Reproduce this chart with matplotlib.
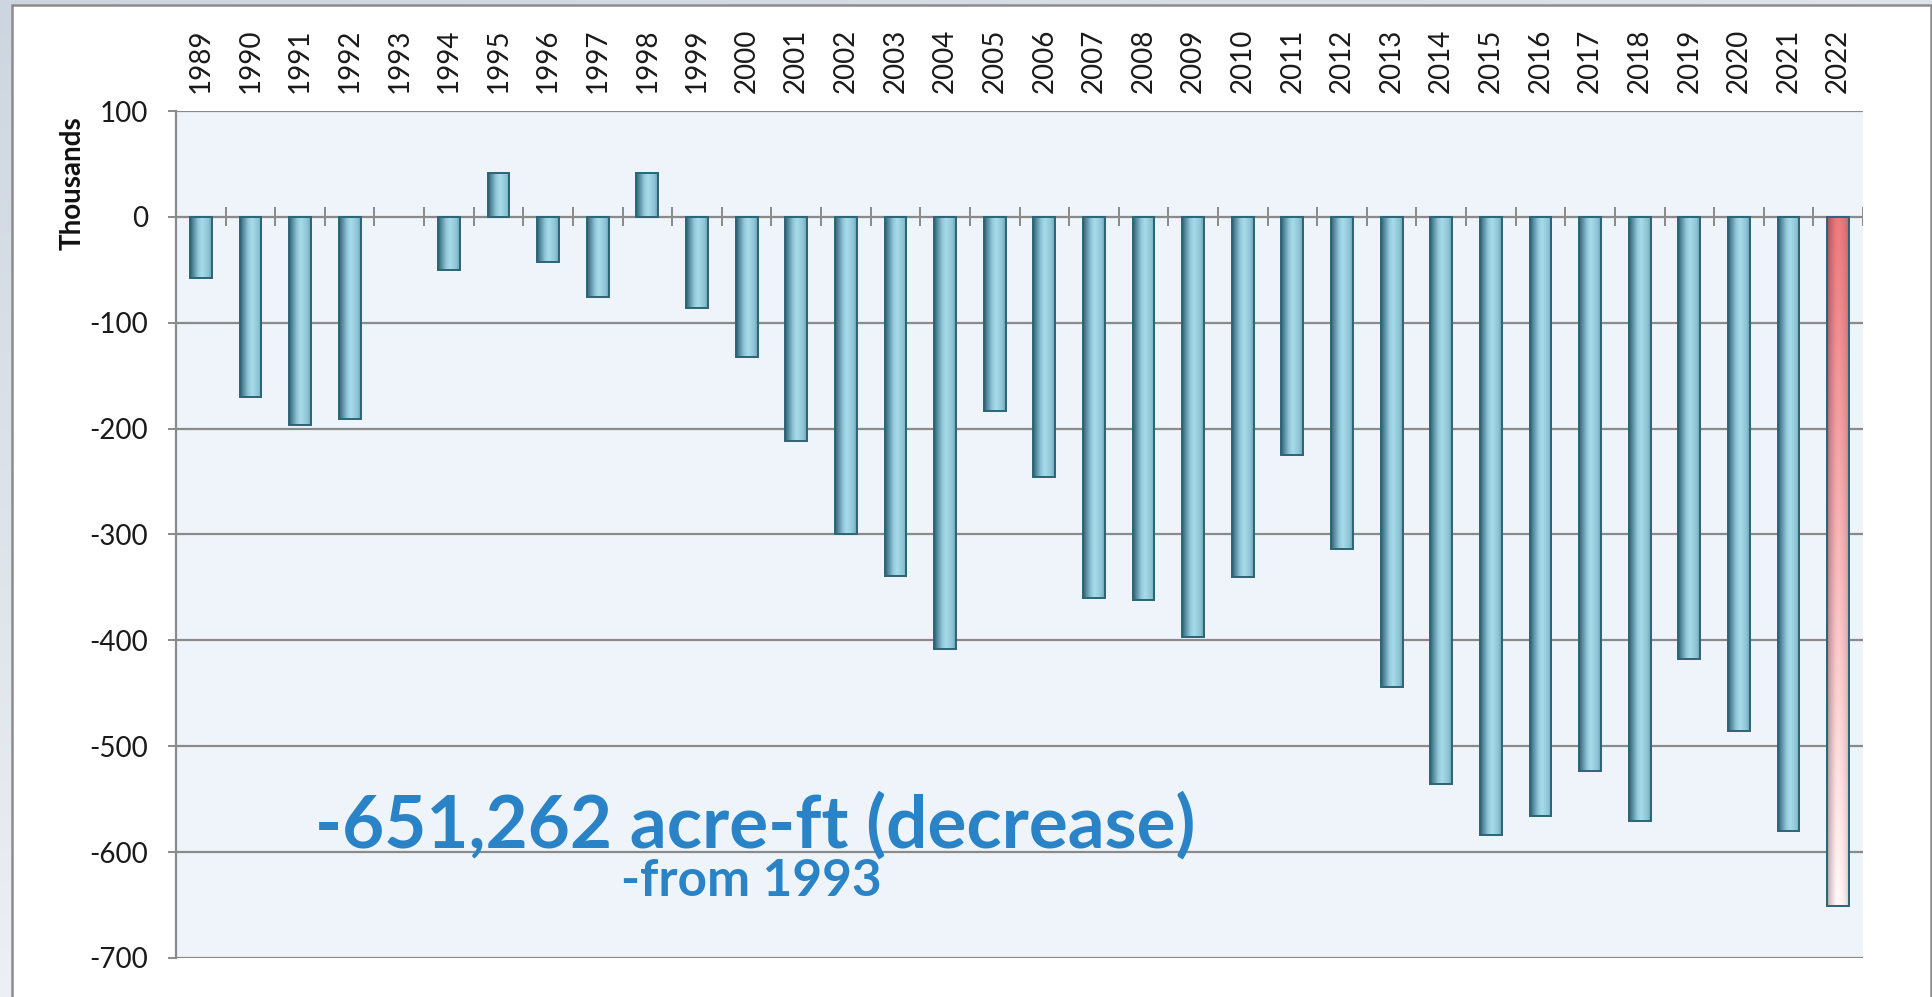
import numpy as np
import matplotlib
matplotlib.use("Agg")
import matplotlib.pyplot as plt
from matplotlib.colors import LinearSegmentedColormap, to_rgb
from matplotlib.patches import Rectangle

# storage change per year, thousands of acre-ft (1993 is the reference year)
years = list(range(1989, 2023))
values = [
    -58, -170, -197, -191, 0, -50, 41, -43, -76, 41,
    -86, -132, -212, -300, -339, -408, -183, -246, -360, -362,
    -397, -340, -225, -314, -444, -536, -584, -566, -523, -571,
    -418, -486, -580, -651,
]
highlight_year = 2022
y_ticks = [100, 0, -100, -200, -300, -400, -500, -600, -700]
headline = "-651,262 acre-ft (decrease)"
subline = "-from 1993"

W, H = 1932, 997
GRID = "#8a8a8a"
TEXT_BLUE = "#2a83c6"

fig = plt.figure(figsize=(W / 100, H / 100), dpi=100)
fig.patch.set_facecolor("white")

# slide background + chart frame
bg = fig.add_axes([0, 0, 1, 1], zorder=-10)
bg.set_axis_off()
t = np.linspace(1, 0, 200)[:, None] * np.ones((1, 50))
c0, c1 = np.array(to_rgb("#f7f8fa")), np.array(to_rgb("#cdd6e0"))
img = c0 + (c1 - c0) * (0.25 + 0.75 * t[..., None]) * np.linspace(1, 0.6, 50)[None, :, None]
bg.imshow(img, extent=[0, 1, 0, 1], aspect="auto")
bg.add_patch(Rectangle((12 / W, -0.02), (W - 13) / W, 1.02 - 5 / H,
                       facecolor="white", edgecolor="#8c8c8c", lw=1.8))
bg.set_xlim(0, 1)
bg.set_ylim(0, 1)

ax = fig.add_axes([176 / W, (H - 958) / H, (1863 - 176) / W, (958 - 111) / H])
ax.set_facecolor("#eef4fa")

x = np.arange(len(years))
ax.set_xlim(-0.5, len(years) - 0.5)
ax.set_ylim(-700, 100)

for v in y_ticks:
    ax.axhline(v, color=GRID, lw=1.6, zorder=1)
ax.vlines(np.arange(len(years) + 1) - 0.5, -9, 9, color=GRID, lw=1.4, zorder=1)

blue_cmap = LinearSegmentedColormap.from_list("cyl", [
    (0.0, "#305b69"), (0.1, "#4a8093"), (0.38, "#93c9da"),
    (0.55, "#a7dbea"), (0.85, "#8ec3d4"), (1.0, "#6aa0b2")])
shade = np.interp(np.linspace(0, 1, 64), [0, 0.1, 0.38, 0.55, 0.85, 1.0],
                  [0.62, 0.8, 1.0, 1.04, 0.95, 0.82])
red_top, red_bot = np.array(to_rgb("#e8767a")), np.array(to_rgb("#fff2f2"))

for xi, yr, v in zip(x, years, values):
    if v == 0:
        continue
    bar = ax.bar(xi, v, width=0.44, color="none", edgecolor="#2a6577",
                 lw=1.4, zorder=4)[0]
    ext = (bar.get_x(), bar.get_x() + bar.get_width(),
           min(0, v), max(0, v))
    if yr == highlight_year:
        tv = np.linspace(0, 1, 128)[:, None, None]
        base = red_bot + (red_top - red_bot) * tv
        grad = np.clip(base * shade[None, :, None], 0, 1)
        im = ax.imshow(grad, extent=ext, origin="lower", aspect="auto",
                       zorder=3, interpolation="bilinear")
    else:
        grad = np.linspace(0, 1, 64)[None, :]
        im = ax.imshow(grad, extent=ext, cmap=blue_cmap, aspect="auto",
                       zorder=3, interpolation="bilinear")
    im.set_clip_path(bar)

ax.set_xlim(-0.5, len(years) - 0.5)
ax.set_ylim(-700, 100)

for s in ["top", "right", "bottom"]:
    ax.spines[s].set_visible(False)
ax.spines["left"].set_color(GRID)
ax.spines["left"].set_linewidth(1.6)

ax.xaxis.tick_top()
ax.set_xticks(x)
ax.set_xticklabels([str(y) for y in years], rotation=90,
                   fontfamily="Lato", fontsize=20, color="#1a1a1a")
ax.tick_params(axis="x", length=0, pad=13)

ax.set_yticks(y_ticks)
ax.set_yticklabels([str(v) for v in y_ticks], fontfamily="Lato",
                   fontsize=20, color="#1a1a1a")
ax.tick_params(axis="y", length=6, width=1.4, color=GRID, pad=14)

ax.text(-0.061, 0.915, "Thousands", transform=ax.transAxes, rotation=90,
        ha="center", va="center", fontfamily="Lato", fontweight="bold",
        fontsize=20, color="#111111")

ax.text(0.0824, 0.130, headline, transform=ax.transAxes, ha="left",
        va="baseline", fontfamily="Lato", fontweight="bold", fontsize=52.5,
        color=TEXT_BLUE, zorder=5)
ax.text(0.264, 0.073, subline, transform=ax.transAxes, ha="left",
        va="baseline", fontfamily="Lato", fontweight="bold", fontsize=37,
        color=TEXT_BLUE, zorder=5)

fig.savefig("out.png", dpi=100)
